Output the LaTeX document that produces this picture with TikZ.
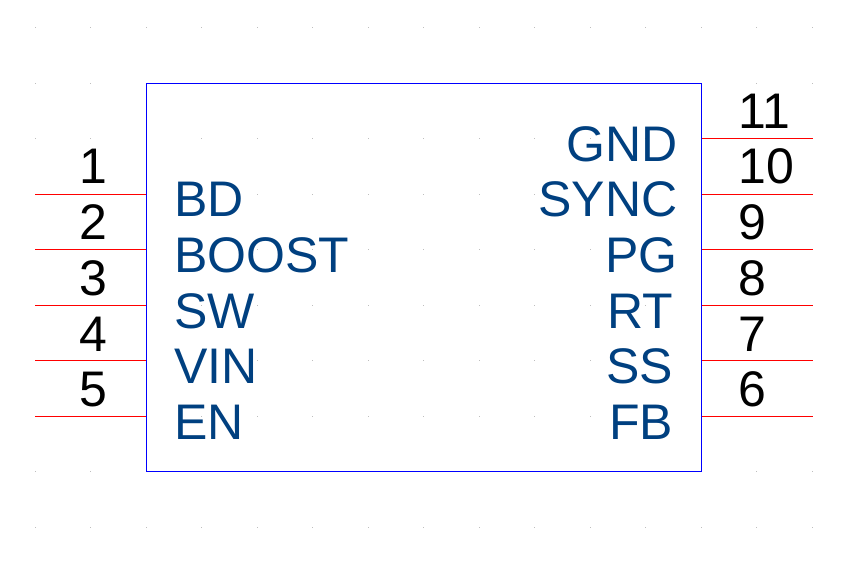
\documentclass[tikz,border=0pt]{standalone}
\usepackage{fontspec}
\setmainfont{Liberation Sans}
\definecolor{lbl}{RGB}{0,64,128}
\definecolor{griddot}{RGB}{190,190,190}
\tikzset{
  x=1bp,y=-1bp,
  pinline/.style={draw=red,line width=1bp},
  body/.style={draw=blue,line width=1bp,rectangle,minimum width=555bp,minimum height=388bp,inner sep=0pt,outer sep=0pt},
  sigleft/.style={anchor=base west,inner sep=0pt,text=lbl,font=\fontsize{50bp}{50bp}\selectfont},
  sigright/.style={anchor=base east,inner sep=0pt,text=lbl,font=\fontsize{50bp}{50bp}\selectfont},
  pinnum/.style={anchor=base west,inner sep=0pt,text=black,font=\fontsize{50bp}{50bp}\selectfont},
}
\begin{document}
\begin{tikzpicture}
\useasboundingbox (0,0) rectangle (853,568);
\fill[white] (0,0) rectangle (853,568);
\foreach \i in {0,...,14}{
  \foreach \j in {0,...,9}{
    \pgfmathsetmacro{\gx}{floor(35+55.5*\i)}
    \pgfmathsetmacro{\gy}{floor(27.5+55.55*\j)}
    \fill[griddot] (\gx,\gy) rectangle +(1,1);
  }
}
\node[body] (ic) at (424,277.5) {};
% left pins: number, signal, pin y, number baseline, signal baseline
\foreach \n/\s/\y/\nb/\sb in {1/BD/194.5/184/217,2/BOOST/249.5/240/272.7,3/SW/305.5/295/328,4/VIN/360.5/351/383.5,5/EN/416.5/406/439}{
  \coordinate (p\n) at (35,\y);
  \coordinate (q\n) at (ic.west |- p\n);
  \draw[pinline] (p\n) -- (q\n);
  \node[pinnum] (num\n) at (79.5,\nb) {\n};
  \node[sigleft] (sig\n) at (174,\sb) {\s};
}
% right pins: number, signal, pin y, number baseline, signal baseline, signal right edge
\foreach \n/\s/\y/\nb/\sb/\sx in {11/GND/138.5/129/161.7/677.7,10/SYNC/194.5/184/217/677.7,9/PG/249.5/240/272.5/677.7,8/RT/305.5/295/328/673.5,7/SS/360.5/351/383.5/673,6/FB/416.5/406/439/673.5}{
  \coordinate (p\n) at (813,\y);
  \coordinate (q\n) at (ic.east |- p\n);
  \draw[pinline] (q\n) -- (p\n);
  \node[pinnum] (num\n) at (738.5,\nb) {\n};
  \node[sigright] (sig\n) at (\sx,\sb) {\s};
}
\end{tikzpicture}
\end{document}
